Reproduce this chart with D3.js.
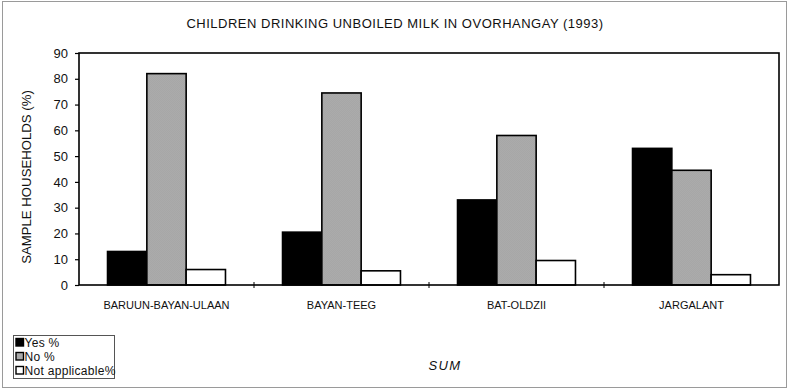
<!DOCTYPE html>
<html>
<head>
<meta charset="utf-8">
<script src="https://cdn.jsdelivr.net/npm/d3@7"></script>
<style>
  html, body { margin: 0; padding: 0; background: #fff; }
  svg { display: block; font-family: "Liberation Sans", Arial, sans-serif; }
</style>
</head>
<body>
<svg id="chart" width="789" height="390"></svg>
<script>
// Survey districts (sum) and response shares, percent of sample households
const categories = ["BARUUN-BAYAN-ULAAN", "BAYAN-TEEG", "BAT-OLDZII", "JARGALANT"];
const seriesNames = ["Yes %", "No %", "Not applicable%"];
const yesValues = [13, 20.5, 33, 53];
const noValues = [82, 74.5, 58, 44.5];
const naValues = [6, 5.5, 9.5, 4];
const yTicks = [0, 10, 20, 30, 40, 50, 60, 70, 80, 90];

const series = [yesValues, noValues, naValues];
const rows = categories.map((c, i) => ({
  cat: c,
  vals: series.map((s, k) => ({ key: seriesNames[k], v: s[i] }))
}));

const svg = d3.select("#chart");
const W = 789, H = 390;
const plot = { left: 79, right: 779, top: 53, bottom: 285 };

// checkered grey fill for the "No" series
const defs = svg.append("defs");
const pat = defs.append("pattern")
  .attr("id", "dither").attr("patternUnits", "userSpaceOnUse")
  .attr("width", 2).attr("height", 2);
pat.append("rect").attr("width", 2).attr("height", 2).attr("fill", "#d2d2d2");
pat.append("rect").attr("x", 0).attr("y", 0).attr("width", 1).attr("height", 1).attr("fill", "#808080");
pat.append("rect").attr("x", 1).attr("y", 1).attr("width", 1).attr("height", 1).attr("fill", "#808080");

const fills = { "Yes %": "#000", "No %": "url(#dither)", "Not applicable%": "#fff" };

// outer frame
svg.append("rect").attr("x", 2.5).attr("y", 1.5).attr("width", W - 5).attr("height", H - 4)
  .attr("fill", "none").attr("stroke", "#9a9a9a").attr("stroke-width", 1);

// title
svg.append("text").attr("x", 395).attr("y", 28).attr("text-anchor", "middle")
  .attr("font-size", 13).attr("letter-spacing", 0.5).attr("fill", "#111")
  .text("CHILDREN DRINKING UNBOILED MILK IN OVORHANGAY (1993)");

const x0 = d3.scaleBand().domain(categories).range([plot.left, plot.right])
  .paddingInner(0.326).paddingOuter(0.163);
const x1 = d3.scaleBand().domain(seriesNames).range([0, x0.bandwidth()]);
const y = d3.scaleLinear().domain([0, 90]).range([plot.bottom, plot.top]);

// bars
const g = svg.append("g");
g.selectAll("g.grp").data(rows).join("g")
  .attr("transform", d => `translate(${x0(d.cat)},0)`)
  .selectAll("rect").data(d => d.vals).join("rect")
  .attr("x", d => x1(d.key))
  .attr("y", d => y(d.v))
  .attr("width", x1.bandwidth())
  .attr("height", d => y(0) - y(d.v))
  .attr("fill", d => fills[d.key])
  .attr("stroke", "#000").attr("stroke-width", 1.6);

// plot frame
svg.append("rect").attr("x", plot.left).attr("y", plot.top)
  .attr("width", plot.right - plot.left).attr("height", plot.bottom - plot.top)
  .attr("fill", "none").attr("stroke", "#000").attr("stroke-width", 1.6);

// y axis
const yAxis = svg.append("g").attr("transform", `translate(${plot.left},0)`)
  .call(d3.axisLeft(y).tickValues(yTicks).tickSize(4).tickPadding(7));
yAxis.select(".domain").remove();
yAxis.selectAll("line").attr("stroke", "#000").attr("stroke-width", 1.2);
yAxis.selectAll("text").attr("font-size", 13).attr("fill", "#111")
  .attr("font-family", "Liberation Sans, Arial, sans-serif");

// x axis: category labels, separator ticks between groups
const xAxis = svg.append("g").attr("transform", `translate(0,${plot.bottom})`)
  .call(d3.axisBottom(x0).tickSize(0).tickPadding(16));
xAxis.select(".domain").remove();
xAxis.selectAll("text").attr("font-size", 11).attr("fill", "#111")
  .attr("font-family", "Liberation Sans, Arial, sans-serif");
const seps = categories.slice(1).map(c => x0(c) - x0.step() * x0.paddingInner() / 2);
svg.append("g").selectAll("line").data(seps).join("line")
  .attr("x1", d => d).attr("x2", d => d)
  .attr("y1", plot.bottom - 3).attr("y2", plot.bottom + 3)
  .attr("stroke", "#000").attr("stroke-width", 1);

// axis titles
svg.append("text").attr("transform", "translate(31,177) rotate(-90)")
  .attr("text-anchor", "middle").attr("font-size", 13.2).attr("fill", "#111")
  .text("SAMPLE HOUSEHOLDS (%)");
svg.append("text").attr("x", 445).attr("y", 370).attr("text-anchor", "middle")
  .attr("font-size", 13).attr("letter-spacing", 1.3).attr("font-style", "italic").attr("fill", "#111")
  .text("SUM");

// legend
const lg = svg.append("g");
lg.append("rect").attr("x", 13.5).attr("y", 335.5).attr("width", 101).attr("height", 43)
  .attr("fill", "#fff").attr("stroke", "#555").attr("stroke-width", 1);
const items = lg.selectAll("g").data(seriesNames).join("g")
  .attr("transform", (d, i) => `translate(16,${338.5 + i * 14})`);
items.append("rect").attr("width", 7.5).attr("height", 7.5)
  .attr("fill", d => fills[d]).attr("stroke", "#000").attr("stroke-width", 1.4);
items.append("text").attr("x", 8.5).attr("y", 8).attr("font-size", 12)
  .attr("letter-spacing", 0.3).attr("fill", "#111")
  .text(d => d);
</script>
</body>
</html>
